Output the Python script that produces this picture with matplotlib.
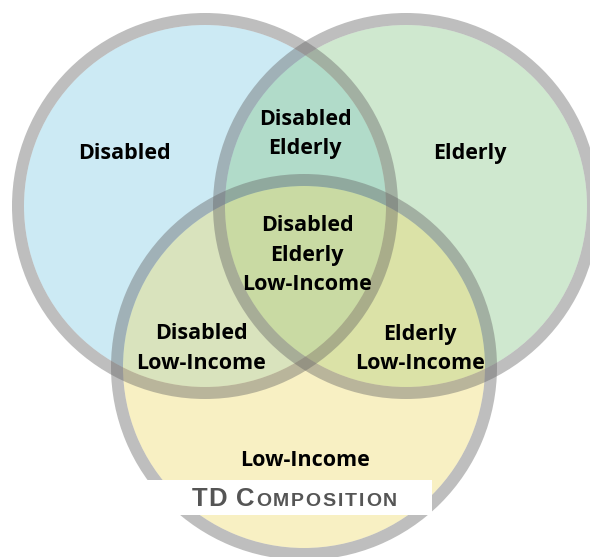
import matplotlib.pyplot as plt
from matplotlib.patches import Circle, Wedge, Rectangle

# sets of the venn diagram
sets = ['Disabled', 'Elderly', 'Low-Income']
fill_colors = ['#80cbe4', '#89c689', '#eeda6b']

# region labels (one per region)
region_labels = ['Disabled', 'Elderly', 'Low-Income',
                 'Disabled\nElderly', 'Disabled\nLow-Income', 'Elderly\nLow-Income',
                 'Disabled\nElderly\nLow-Income']

title_big = 'TD C'
title_small = 'OMPOSITION'

# layout (pixels)
centers = [(205, 206), (406, 206), (304, 367)]
r_out = 193
ring = 12
label_pos = [(124, 153.5), (470, 153.5), (305, 460),
             (305, 134), (201, 348.5), (420, 349),
             (307, 255)]

fig = plt.figure(figsize=(5.9, 5.57), dpi=100)
ax = fig.add_axes([0, 0, 1, 1])
ax.set_xlim(0, 590)
ax.set_ylim(557, 0)
ax.axis('off')

for (cx, cy), col in zip(centers, fill_colors):
    ax.add_patch(Circle((cx, cy), r_out - ring, facecolor=col, alpha=0.4,
                        edgecolor='none', zorder=1))
for (cx, cy) in centers:
    ax.add_patch(Wedge((cx, cy), r_out, 0, 360, width=ring, facecolor='#646464',
                       alpha=0.42, edgecolor='none', zorder=2))

for lab, (x, y) in zip(region_labels, label_pos):
    ax.text(x, y, lab, ha='center', va='center', fontsize=15.5, fontweight='bold',
            family=['Open Sans', 'DejaVu Sans'], color='black', linespacing=1.52,
            zorder=5)

# caption box with small caps, drawn letter by letter with some tracking
ax.add_patch(Rectangle((140, 480), 292, 35, facecolor='white', edgecolor='none', zorder=3))
fig.canvas.draw()
rend = fig.canvas.get_renderer()
inv = ax.transData.inverted()
x = 192
for part, size, track in [(title_big, 18.5, 1.0), (title_small, 14, 1.9)]:
    for ch in part:
        t = ax.text(x, 505.5, ch, ha='left', va='baseline', fontsize=size,
                    fontweight='bold', family='Liberation Sans', color='#555555',
                    zorder=5)
        bb = t.get_window_extent(renderer=rend)
        w = inv.transform((bb.x1, 0))[0] - inv.transform((bb.x0, 0))[0]
        if ch == ' ':
            w = size * 0.38
        x += w + track

plt.savefig('out.png', dpi=100)
